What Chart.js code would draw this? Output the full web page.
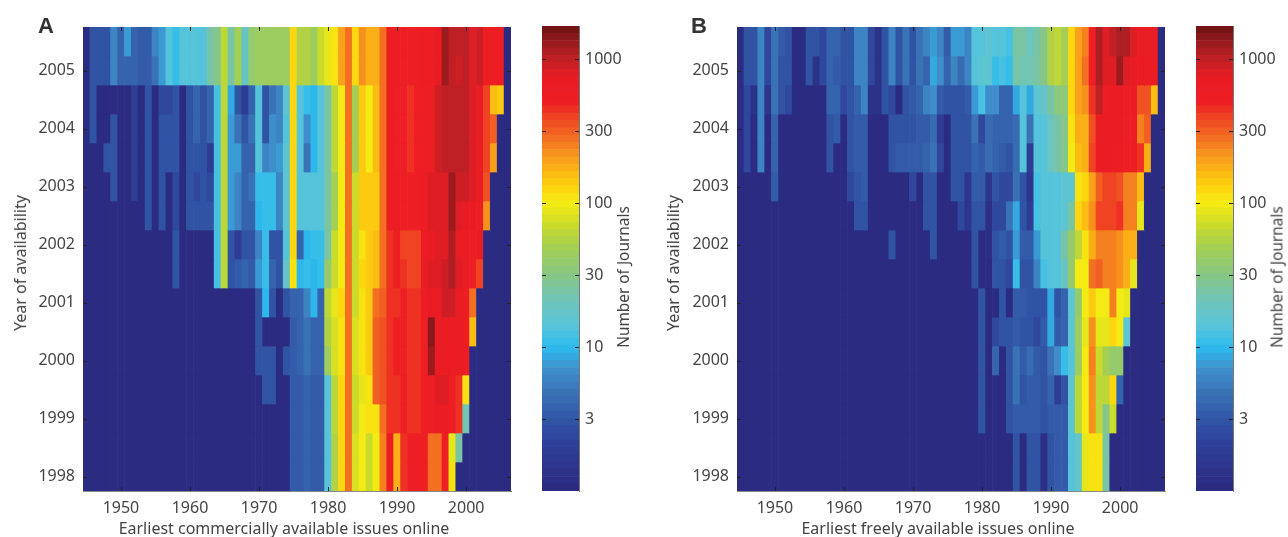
<!DOCTYPE html>
<html><head><meta charset="utf-8">
<style>
html,body{margin:0;padding:0;background:#fff;width:1288px;height:537px;overflow:hidden}
#w{position:absolute;left:0;top:0;width:1288px;height:537px;filter:blur(0.5px)}
canvas{position:absolute;top:0}
.t{position:absolute;font-family:"Noto Sans",sans-serif;font-size:16px;color:#444;white-space:nowrap;transform:translate(-50%,-50%)}
.r{transform:translate(-50%,-50%) rotate(-90deg)}
.p{font-family:"Liberation Sans",sans-serif;font-weight:700;font-size:22px;color:#333}
</style>
<script src="https://cdn.jsdelivr.net/npm/chart.js@4/dist/chart.umd.min.js"></script>
</head><body><div id="w">
<canvas id="a" style="left:0" width="530" height="537"></canvas>
<canvas id="ca" style="left:530px" width="120" height="537"></canvas>
<canvas id="b" style="left:654px" width="530" height="537"></canvas>
<canvas id="cb" style="left:1184px" width="104" height="537"></canvas>
<div class="t p" style="left:46px;top:26px">A</div>
<div class="t p" style="left:699px;top:26px">B</div>
<div class="t" style="left:284px;top:528px">Earliest commercially available issues online</div>
<div class="t" style="left:938px;top:528px">Earliest freely available issues online</div>
<div class="t r" style="left:20px;top:263px">Year of availability</div>
<div class="t r" style="left:673px;top:263px">Year of availability</div>
<div class="t r" style="left:623px;top:277px;font-size:15.4px">Number of Journals</div>
<div class="t r" style="left:1277px;top:277px;font-size:15.4px">Number of Journals</div>
</div>
<script>
const years=[1945,1946,1947,1948,1949,1950,1951,1952,1953,1954,1955,1956,1957,1958,1959,1960,1961,1962,1963,1964,1965,1966,1967,1968,1969,1970,1971,1972,1973,1974,1975,1976,1977,1978,1979,1980,1981,1982,1983,1984,1985,1986,1987,1988,1989,1990,1991,1992,1993,1994,1995,1996,1997,1998,1999,2000,2001,2002,2003,2004,2005,2006];
const availability=[2005.5,2005,2004.5,2004,2003.5,2003,2002.5,2002,2001.5,2001,2000.5,2000,1999.5,1999,1998.5,1998];
const xTicks=[1950,1960,1970,1980,1990,2000];
const yTicks=[1998,1999,2000,2001,2002,2003,2004,2005];
const cbTickValues=[3.16,10,31.6,100,316,1000];
const cbTickLabels=["3","10","30","100","300","1000"];
const colorValues=[1,2,3,5,7,10,14,20,30,50,70,100,130,200,300,400,500,750,1000,1300,1700];
const colorHex=["#2b2a7f","#2e3d95","#3153a4","#3b75b8","#3f8fcc","#2cbcee","#58c5d8","#6dc4bd","#84c58b","#a6cf50","#cbdb2a","#f7ec13","#fdd20e","#f9a01b","#f26522","#ef4223","#ed1f24","#e81c24","#bf2026","#981b1e","#6b1213"];

const a0=[0,3,3,3,6,4,8,4,3.5,3.5, 6,8,14,11,14,13,13,13,25,30, 60,25,50,18,40,45,45,45,45,45, 120,55,55,45,70,85,110,200,270,120, 220,170,170,280,550,550,500,500,500,550, 550,700,1300,1000,1000,1000,800,900,550,550, 550,0];
const a1=[0,3,3,3,6,4,4,4,3.5,3.5, 5,8,14,11,14,13,13,13,25,30, 60,25,50,18,40,45,45,45,45,45, 120,55,55,45,70,85,110,200,270,120, 220,170,170,280,550,550,500,500,500,550, 550,700,1300,1000,900,1000,800,900,550,550, 550,0];
const a2=[0,3,0,0,0,0,0,2,0,3, 0,2.5,2.5,3,0,3,4,3,4,12, 60,9,3,2,4,13,3,5,6,15, 120,13,11,10,13,25,60,100,270,50, 140,100,160,280,550,500,480,450,480,480, 520,900,1000,1000,1000,1000,800,620,420,160, 140,0];
const a3=[0,3,0,0,3,0,0,2,0,3, 0,3,3,3,0,3,4,3,4,12, 60,8,5,3,5,13,3,7,6,14, 120,14,7,10,13,25,60,100,270,50, 140,100,160,280,550,500,480,450,480,480, 520,900,1000,1000,1000,1000,800,620,400,320, 0,0];
const a4=[0,0,0,3,3,0,0,2,0,3, 0,3,3,3,0,3,3,3,2,12, 60,8,8,4,4,13,6,7,8,15, 120,14,5,10,13,25,60,100,270,50, 140,100,160,280,550,500,480,450,480,480, 520,900,1000,1000,1000,1000,800,620,400,200, 0,0];
const a5=[0,0,0,0,3,0,0,2,0,3, 0,3,0,2.5,0,3,2.5,3,2.5,12, 60,8,6,4,5,11,11,11,6,15, 120,14,14,14,14,25,50,100,270,70, 140,140,140,280,550,550,500,480,480,550, 800,800,800,1300,900,900,800,600,350,0, 0,0];
const a6=[0,0,0,0,0,0,0,0,0,3, 0,3,0,2.5,0,3,3,3,3,12, 60,8,6,4,4,10,11,11,6,15, 120,14,14,14,14,25,50,100,270,70, 140,140,140,280,550,550,500,480,480,550, 800,800,800,1300,800,750,750,550,220,0, 0,0];
const a7=[0,0,0,0,0,0,0,0,0,0, 0,0,0,3,0,0,0,0,0,12, 60,3,2,3,3,6,11,3,3,14, 120,4,10,11,11,25,70,100,270,70, 110,140,150,270,450,500,400,420,420,600, 750,800,800,1100,750,650,500,600,0,0, 0,0];
const a8=[0,0,0,0,0,0,0,0,0,0, 0,0,0,3,0,0,0,0,0,12, 60,3,3.5,4,3.5,8,11,4,3,18, 110,10,11,10,11,40,70,100,270,70, 120,140,150,270,450,500,430,420,420,600, 800,800,900,1100,800,650,500,400,0,0, 0,0];
const a9=[0,0,0,0,0,0,0,0,0,0, 0,0,0,0,0,0,0,0,0,0, 0,0,0,0,0,3,10,3,0,3, 4,4,6,10,4,60,90,120,270,70, 110,140,280,330,450,470,500,470,470,550, 750,750,850,850,650,580,280,0,0,0, 0,0];
const a10=[0,0,0,0,0,0,0,0,0,0, 0,0,0,0,0,0,0,0,0,0, 0,0,0,0,0,3,0,0,0,0, 3.5,4,5,4,4,55,80,110,270,75, 110,140,300,370,450,480,500,450,470,500, 1500,650,650,650,600,550,150,0,0,0, 0,0];
const a11=[0,0,0,0,0,0,0,0,0,0, 0,0,0,0,0,0,0,0,0,0, 0,0,0,0,0,3,3,3,0,3, 3.5,4,5,4,4,45,80,110,270,75, 110,140,300,370,450,480,500,450,470,500, 1200,650,650,650,650,560,0,0,0,0, 0,0];
const a12=[0,0,0,0,0,0,0,0,0,0, 0,0,0,0,0,0,0,0,0,0, 0,0,0,0,0,0,3,3,0,0, 3.5,3.5,4,3.5,3.5,14,60,130,270,70, 90,110,300,350,450,470,480,460,470,480, 500,800,800,500,450,110,0,0,0,0, 0,0];
const a13=[0,0,0,0,0,0,0,0,0,0, 0,0,0,0,0,0,0,0,0,0, 0,0,0,0,0,0,0,0,0,0, 3.5,3.5,4,3.5,3.5,14,60,130,270,70, 95,110,110,280,450,470,480,460,470,480, 500,600,600,480,450,22,0,0,0,0, 0,0];
const a14=[0,0,0,0,0,0,0,0,0,0, 0,0,0,0,0,0,0,0,0,0, 0,0,0,0,0,0,0,0,0,0, 3.5,3.5,4,3.5,3.5,13,55,130,270,75, 100,70,100,250,600,180,450,500,500,500, 280,280,500,85,25,0,0,0,0,0, 0,0];
const a15=[0,0,0,0,0,0,0,0,0,0, 0,0,0,0,0,0,0,0,0,0, 0,0,0,0,0,0,0,0,0,0, 3.5,3.5,4,3.5,3.5,13,55,130,270,75, 100,70,100,250,600,180,450,500,500,500, 280,280,500,110,0,0,0,0,0,0, 0,0];

const b0=[0,3,3,6,2.5,5,3.5,3,0,0, 3,3,2.5,4,4,3,3,6,6,2.5, 1.3,3,6,3,5,3,5,6,8,6, 3.5,8,8,6,13,14,15,13,13,12, 25,25,20,25,30,55,60,50,130,200, 260,500,1100,800,1000,1100,1100,800,600,600, 600,0];
const b1=[0,3,3,6,2.5,5,3,3,0,0, 3,1.3,2.5,4,3.5,3,3,6,6,2.5, 1.3,3,6,3,5,3,5,4,9,7, 4,6,4.5,6,13,15,15,11,12,11, 25,22,22,25,30,55,65,50,130,200, 280,500,1100,800,800,1200,800,700,600,600, 600,0];
const b2=[0,2.5,1.3,6,1.5,5,3,2.5,0,0, 0,0,0,4,4,2.5,3,4,6,1.3, 1.3,3,2.5,1.1,3,3.5,4,6,7,3.5, 3,3,3,3.5,8,12,7,7,4,4, 9,14,9,15,18,25,33,33,120,190, 220,450,1000,550,600,600,550,550,370,350, 160,0];
const b3=[0,2.5,0,6,0,4,0,0,0,0, 0,0,0,3,3.5,0,3,3.5,3.5,0, 0,0,3,3,3,3,3.5,3.5,4.5,2, 0,3,3,3,5,2.5,4.5,4,4,4, 4.5,13,5,14,14,20,25,30,105,180, 180,350,600,600,600,600,500,500,250,300, 0,0];
const b4=[0,2.5,0,6,0,4,0,0,0,0, 0,0,0,3,0,0,3,3.5,3.5,0, 0,0,3,3.2,3.2,3.2,3.2,4,5,2.5, 0,3,3,3,4,3.5,4.5,4,3.5,3, 4.5,13,2,14,14,20,25,30,100,160, 180,400,650,600,550,550,480,480,450,170, 0,0];
const b5=[0,0,0,0,0,3.5,0,0,0,0, 0,0,0,0,0,0,2.5,3,3.5,0, 0,0,0,0,0,2.5,0,3,3,0, 0,3,3,1.5,3.5,3.5,1.5,3,2.5,2.5, 5,3,1.5,12,13,13,14,15,15,110, 120,200,300,380,380,350,240,250,150,0, 0,0];
const b6=[0,0,0,0,0,0,0,0,0,0, 0,0,0,0,0,0,0,3,3,0, 0,0,0,0,0,0,0,3,3,0, 0,0,2.5,1.5,3,3,1.2,2.5,2.5,5, 9,3,2,12,14,14,13,15,25,130, 150,230,380,400,400,430,250,250,90,0, 0,0];
const b7=[0,0,0,0,0,0,0,0,0,0, 0,0,0,0,0,0,0,0,0,0, 0,0,3,0,0,0,0,0,3,0, 0,0,0,0,3,0,1.2,3,3.5,3, 8,3.5,3.5,8,13,14,14,25,40,60, 110,180,260,260,250,220,170,170,0,0, 0,0];
const b8=[0,0,0,0,0,0,0,0,0,0, 0,0,0,0,0,0,0,0,0,0, 0,0,0,0,0,0,0,0,0,0, 0,0,0,0,3,0,0,3,3,2.5, 11,3,3,6,12,13,13,20,40,100, 100,270,300,250,240,220,180,85,0,0, 0,0];
const b9=[0,0,0,0,0,0,0,0,0,0, 0,0,0,0,0,0,0,0,0,0, 0,0,0,0,0,0,0,0,0,0, 0,0,0,0,0,3,0,0,3,0, 3.5,3.5,3,3,3,9,3,4,15,40, 100,140,95,95,250,100,90,0,0,0, 0,0];
const b10=[0,0,0,0,0,0,0,0,0,0, 0,0,0,0,0,0,0,0,0,0, 0,0,0,0,0,0,0,0,0,0, 0,0,0,0,0,3,0,2.5,3,3, 3.5,3,3,2.5,3.5,9,3.5,4,15,45, 90,220,85,85,130,100,15,0,0,0, 0,0];
const b11=[0,0,0,0,0,0,0,0,0,0, 0,0,0,0,0,0,0,0,0,0, 0,0,0,0,0,0,0,0,0,0, 0,0,0,0,0,3,0,4,0,3, 5,3.5,4.5,3.5,3,5,7,11,13,45, 100,240,70,50,40,40,0,0,0,0, 0,0];
const b12=[0,0,0,0,0,0,0,0,0,0, 0,0,0,0,0,0,0,0,0,0, 0,0,0,0,0,0,0,0,0,0, 0,0,0,0,0,3,0,0,0,3, 5,3,3.5,3.5,3,4,1.8,3,15,60, 100,230,60,60,130,4,0,0,0,0, 0,0];
const b13=[0,0,0,0,0,0,0,0,0,0, 0,0,0,0,0,0,0,0,0,0, 0,0,0,0,0,0,0,0,0,0, 0,0,0,0,0,3,0,0,0,3, 3.5,3.2,3.5,3.5,3,3.5,3.5,3.5,15,60, 100,230,60,30,70,0,0,0,0,0, 0,0];
const b14=[0,0,0,0,0,0,0,0,0,0, 0,0,0,0,0,0,0,0,0,0, 0,0,0,0,0,0,0,0,0,0, 0,0,0,0,0,0,0,0,0,0, 3,0,3,3,1.2,3,3.5,3.5,13,18, 90,110,110,25,0,0,0,0,0,0, 0,0];
const b15=[0,0,0,0,0,0,0,0,0,0, 0,0,0,0,0,0,0,0,0,0, 0,0,0,0,0,0,0,0,0,0, 0,0,0,0,0,0,0,0,0,0, 3,0,3,3,1.2,3,3.5,3.5,13,18, 90,110,110,25,0,0,0,0,0,0, 0,0];

const rowsA=[a0,a1,a2,a3,a4,a5,a6,a7,a8,a9,a10,a11,a12,a13,a14,a15];
const rowsB=[b0,b1,b2,b3,b4,b5,b6,b7,b8,b9,b10,b11,b12,b13,b14,b15];

const CMAX=1700,LEVELS=64;
const rgb=h=>[1,3,5].map(i=>parseInt(h.substr(i,2),16));
function colorOf(v){
  const lv=v<1?0:Math.log10(v);
  const q=(Math.min(LEVELS-1,Math.floor(lv/Math.log10(CMAX)*LEVELS))+0.5)/LEVELS*Math.log10(CMAX);
  const L=colorValues.map(Math.log10);
  let i=0; while(i<L.length-2&&q>L[i+1]) i++;
  const t=Math.min(1,Math.max(0,(q-L[i])/(L[i+1]-L[i])));
  const A=rgb(colorHex[i]),B=rgb(colorHex[i+1]);
  return `rgb(${A.map((c,k)=>Math.round(c+(B[k]-c)*t)).join(',')})`;
}
const font={family:'"Noto Sans",sans-serif',size:16};
const TXT='#444';
const inwardTicks={id:'inwardTicks',afterDatasetsDraw(c,_,o){
  const {ctx,chartArea:A}=c; ctx.save(); ctx.strokeStyle=o.color||'#222'; ctx.lineWidth=1; const L=o.len||4;
  for(const s of Object.values(c.scales)){ if(!s.options.display) continue;
    s.ticks.forEach((t,i)=>{const p=Math.round(s.getPixelForTick(i))+.5; ctx.beginPath();
      if(s.isHorizontal()){ctx.moveTo(p,A.top);ctx.lineTo(p,A.top+L);ctx.moveTo(p,A.bottom);ctx.lineTo(p,A.bottom-L);}
      else{ctx.moveTo(A.left,p);ctx.lineTo(A.left+L,p);ctx.moveTo(A.right,p);ctx.lineTo(A.right-L,p);}
      ctx.stroke();});}
  ctx.restore();}};

function heat(id,rows){
  const datasets=rows.map((r,i)=>({
    data:years.map(y=>({x:y,y:[availability[i]-.25,availability[i]+.25]})),
    backgroundColor:r.map(colorOf),borderWidth:0,barPercentage:1,categoryPercentage:1,grouped:false}));
  new Chart(document.getElementById(id),{type:'bar',data:{datasets},plugins:[inwardTicks],options:{
    responsive:false,animation:false,events:[],
    layout:{padding:{top:27,right:19,left:0,bottom:0}},
    plugins:{legend:{display:false},tooltip:{enabled:false}},
    scales:{
      x:{type:'linear',offset:false,min:1944.5,max:2006.5,
        afterBuildTicks:s=>{s.ticks=xTicks.map(v=>({value:v}))},
        afterFit:s=>{s.height=46},
        grid:{display:false,drawTicks:false},border:{display:true,color:'#888'},
        ticks:{font,color:TXT,padding:8,autoSkip:false,maxRotation:0,callback:v=>String(v)}},
      y:{type:'linear',min:1997.75,max:2005.75,
        afterBuildTicks:s=>{s.ticks=yTicks.map(v=>({value:v}))},
        afterFit:s=>{s.width=83},
        grid:{display:false,drawTicks:false},border:{display:true,color:'#888'},
        ticks:{font,color:TXT,padding:8,autoSkip:false,callback:v=>String(v)}}
    }}});
}
function colorbar(id,pl){
  const datasets=[];
  for(let i=0;i<LEVELS;i++){
    const lo=Math.pow(CMAX,i/LEVELS),hi=Math.pow(CMAX,(i+1)/LEVELS);
    datasets.push({data:[[lo,hi]],backgroundColor:colorOf(Math.sqrt(lo*hi)),borderWidth:0,barPercentage:1,categoryPercentage:1,grouped:false});
  }
  new Chart(document.getElementById(id),{type:'bar',data:{labels:['Number of Journals'],datasets},plugins:[inwardTicks],options:{
    responsive:false,animation:false,events:[],
    layout:{padding:{top:26,bottom:46,left:pl,right:0}},
    plugins:{legend:{display:false},tooltip:{enabled:false},inwardTicks:{color:'#222',len:4}},
    scales:{
      x:{display:false},
      y:{type:'logarithmic',position:'right',min:1,max:CMAX,
        afterBuildTicks:s=>{s.ticks=cbTickValues.map(v=>({value:v}))},
        afterFit:s=>{s.width=id==='ca'?71:55},
        grid:{display:false,drawTicks:false},border:{display:true,color:'#777'},
        ticks:{font,color:TXT,padding:6,autoSkip:false,callback:v=>cbTickLabels[cbTickValues.indexOf(v)]}}
    }}});
}
heat('a',rowsA);heat('b',rowsB);colorbar('ca',12);colorbar('cb',12);
</script>
</body></html>
